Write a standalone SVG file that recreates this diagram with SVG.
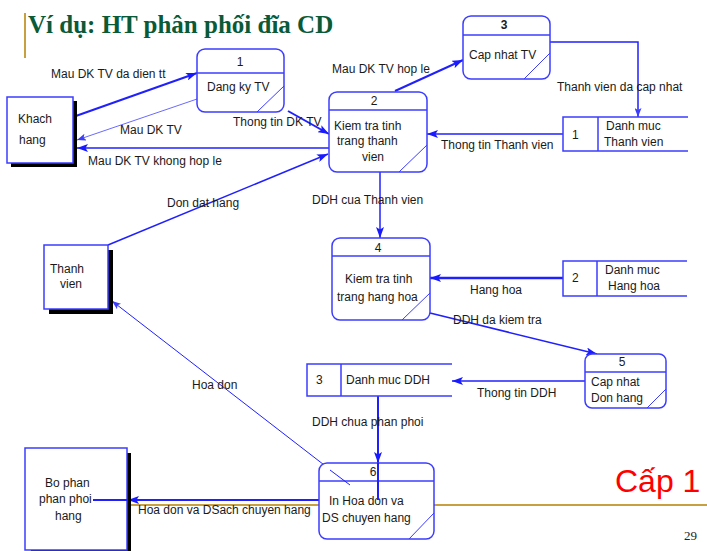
<svg xmlns="http://www.w3.org/2000/svg" width="707" height="551" viewBox="0 0 707 551">
<style>
.t{font-family:"Liberation Sans",Arial,sans-serif;font-size:12px;fill:#1a1a1a}
.c{text-anchor:middle}
.box{fill:#fff;stroke:#3c3cff;stroke-width:1.5}
.sh{fill:#000}
.proc{fill:#fff;stroke:#3c3cff;stroke-width:1.5}
.div{stroke:#3c3cff;stroke-width:1.5;fill:none}
.diag{stroke:#3c3cff;stroke-width:1;fill:none}
.st{stroke:#3c3cff;stroke-width:1.5;fill:none}
.a{stroke:#2020ff;fill:none}
</style>
<defs>
<marker id="ah" markerUnits="userSpaceOnUse" markerWidth="12" markerHeight="8" refX="11" refY="4" orient="auto">
<path d="M0,0 L11,4 L0,8 L2.5,4 z" fill="#1a1aff"/>
</marker>
<marker id="ahs" markerUnits="userSpaceOnUse" markerWidth="10" markerHeight="7" refX="9" refY="3.5" orient="auto">
<path d="M0,0 L9,3.5 L0,7 L2,3.5 z" fill="#3c3cff"/>
</marker>
</defs>
<rect width="707" height="551" fill="#fff"/>
<g id="decor">
<line x1="25" y1="13" x2="25" y2="58" stroke="#c8a040" stroke-width="2"/>
<line x1="128" y1="505" x2="707" y2="505" stroke="#c8a040" stroke-width="2"/>
<text x="28" y="33" font-family="'Liberation Serif','Times New Roman',serif" font-weight="bold" font-size="25" fill="#0a5a38">Ví dụ: HT phân phối đĩa CD</text>
<text x="615" y="492" font-family="'Liberation Sans',Arial,sans-serif" font-size="32" fill="#ff0000">Cấp 1</text>
<text x="684" y="540" font-family="'Liberation Serif','Times New Roman',serif" font-size="13" fill="#222">29</text>
</g>
<g id="connectors">
<line class="a" x1="73" y1="117" x2="197" y2="73" stroke-width="2" marker-end="url(#ah)"/>
<line x1="200" y1="98" x2="77" y2="140" stroke="#6a6aff" stroke-width="1" marker-end="url(#ahs)"/>
<line class="a" x1="329" y1="148" x2="77" y2="148" stroke-width="1.5" marker-end="url(#ah)"/>
<line class="a" x1="288" y1="111" x2="329" y2="134" stroke-width="2" marker-end="url(#ah)"/>
<line class="a" x1="108" y1="245" x2="328" y2="154" stroke-width="1.5" marker-end="url(#ah)"/>
<line class="a" x1="395" y1="91" x2="463" y2="60" stroke-width="2" marker-end="url(#ah)"/>
<polyline class="a" points="550,42 638,42 638,117" stroke="#4040ff" stroke-width="1.5" marker-end="url(#ahs)"/>
<line class="a" x1="563" y1="134" x2="427" y2="134" stroke-width="1.5" marker-end="url(#ah)"/>
<line class="a" x1="380" y1="172" x2="380" y2="238" stroke-width="1.5" marker-end="url(#ah)"/>
<line class="a" x1="563" y1="278" x2="430" y2="278" stroke-width="2.5" marker-end="url(#ah)"/>
<line class="a" x1="430" y1="313" x2="597" y2="354" stroke-width="1.5" marker-end="url(#ah)"/>
<line class="a" x1="585" y1="381" x2="452" y2="381" stroke-width="1.5" marker-end="url(#ah)"/>
<line class="a" x1="378" y1="396" x2="378" y2="463" stroke-width="2" marker-end="url(#ah)"/>
<line class="a" x1="350" y1="485" x2="112" y2="301" stroke-width="1" marker-end="url(#ahs)"/>
<line class="a" x1="321" y1="500" x2="128" y2="500" stroke-width="2" marker-end="url(#ah)"/>
</g>
<g id="khachhang">
<rect class="sh" x="11" y="101" width="66" height="66"/>
<rect class="box" x="7" y="97" width="66" height="66"/>
<text class="t" x="18" y="123">Khach</text>
<text class="t" x="19" y="144">hang</text>
</g>
<g id="thanhvien">
<rect class="sh" x="49" y="250" width="64" height="64"/>
<rect class="box" x="44" y="245" width="64" height="64"/>
<text class="t" x="50" y="273">Thanh</text>
<text class="t" x="60" y="288">vien</text>
</g>
<g id="bophan">
<rect class="sh" x="31" y="453" width="100" height="102"/>
<rect class="box" x="25" y="448" width="102" height="102"/>
<text class="t" x="45" y="487">Bo phan</text>
<text class="t" x="39" y="503">phan phoi</text>
<text class="t" x="55" y="520">hang</text>
</g>
<g id="p1">
<rect class="proc" x="197" y="49" width="87" height="63" rx="8"/>
<line class="div" x1="197" y1="73" x2="284" y2="73"/>
<path class="diag" d="M257,112 L284,86"/>
<text class="t c" x="240" y="66">1</text>
<text class="t" x="207" y="91">Dang ky TV</text>
</g>
<g id="p2">
<rect class="proc" x="329" y="92" width="98" height="80" rx="8"/>
<line class="div" x1="329" y1="110" x2="427" y2="110"/>
<path class="diag" d="M399,172 L427,145"/>
<text class="t c" x="374" y="105">2</text>
<text class="t" x="334" y="130">Kiem tra tinh</text>
<text class="t" x="337" y="145">trang thanh</text>
<text class="t" x="362" y="161">vien</text>
</g>
<g id="p3">
<rect class="proc" x="463" y="16" width="87" height="63" rx="8"/>
<line class="div" x1="463" y1="35" x2="550" y2="35"/>
<path class="diag" d="M524,79 L550,53"/>
<text class="t c" x="504" y="29" font-weight="bold">3</text>
<text class="t" x="469" y="59">Cap nhat TV</text>
</g>
<g id="ds1">
<path class="st" d="M688,117 L563,117 L563,151 L688,151 M598,117 L598,151"/>
<text class="t" x="572" y="139">1</text>
<text class="t" x="606" y="130">Danh muc</text>
<text class="t" x="604" y="146">Thanh vien</text>
</g>
<g id="p4">
<rect class="proc" x="332" y="238" width="98" height="82" rx="8"/>
<line class="div" x1="332" y1="256" x2="430" y2="256"/>
<path class="diag" d="M402,320 L430,293"/>
<text class="t c" x="378" y="252">4</text>
<text class="t" x="345" y="283">Kiem tra tinh</text>
<text class="t" x="337" y="301">trang hang hoa</text>
</g>
<g id="ds2">
<path class="st" d="M687,261 L563,261 L563,296 L687,296 M597,261 L597,296"/>
<text class="t" x="572" y="282">2</text>
<text class="t" x="605" y="274">Danh muc</text>
<text class="t" x="608" y="290">Hang hoa</text>
</g>
<g id="p5">
<rect class="proc" x="585" y="354" width="81" height="54" rx="7"/>
<line class="div" x1="585" y1="372" x2="666" y2="372"/>
<path class="diag" d="M647,408 L666,389"/>
<text class="t c" x="622" y="366">5</text>
<text class="t" x="591" y="386">Cap nhat</text>
<text class="t" x="591" y="402">Don hang</text>
</g>
<g id="ds3">
<path class="st" d="M452,364 L307,364 L307,396 L452,396 M341,364 L341,396"/>
<text class="t" x="316" y="384">3</text>
<text class="t" x="346" y="384">Danh muc DDH</text>
</g>
<g id="p6">
<rect class="proc" x="319" y="463" width="115" height="76" rx="8"/>
<line class="div" x1="319" y1="481" x2="434" y2="481"/>
<path class="diag" d="M409,539 L434,513"/>
<text class="t c" x="373" y="476">6</text>
<text class="t" x="329" y="505">In Hoa don va</text>
<text class="t" x="322" y="522">DS chuyen hang</text>
</g>
<g id="overlays">
<line class="a" x1="378" y1="463" x2="378" y2="500" stroke-width="2"/>
<line class="a" x1="350" y1="485" x2="330" y2="470" stroke-width="1"/>
<line class="a" x1="128" y1="500" x2="93" y2="500" stroke-width="2"/>
</g>
<g id="labels">
<text class="t" x="51" y="78">Mau DK TV da dien tt</text>
<text class="t" x="120" y="134">Mau DK TV</text>
<text class="t" x="88" y="165">Mau DK TV khong hop le</text>
<text class="t" x="233" y="126">Thong tin DK TV</text>
<text class="t" x="332" y="73">Mau DK TV hop le</text>
<text class="t" x="557" y="91">Thanh vien da cap nhat</text>
<text class="t" x="441" y="149">Thong tin Thanh vien</text>
<text class="t" x="167" y="207">Don dat hang</text>
<text class="t" x="312" y="204">DDH cua Thanh vien</text>
<text class="t" x="470" y="294">Hang hoa</text>
<text class="t" x="453" y="324">DDH da kiem tra</text>
<text class="t" x="477" y="397">Thong tin DDH</text>
<text class="t" x="312" y="426">DDH chua phan phoi</text>
<text class="t" x="192" y="389">Hoa don</text>
<text class="t" x="138" y="514">Hoa don va DSach chuyen hang</text>
</g>
</svg>
